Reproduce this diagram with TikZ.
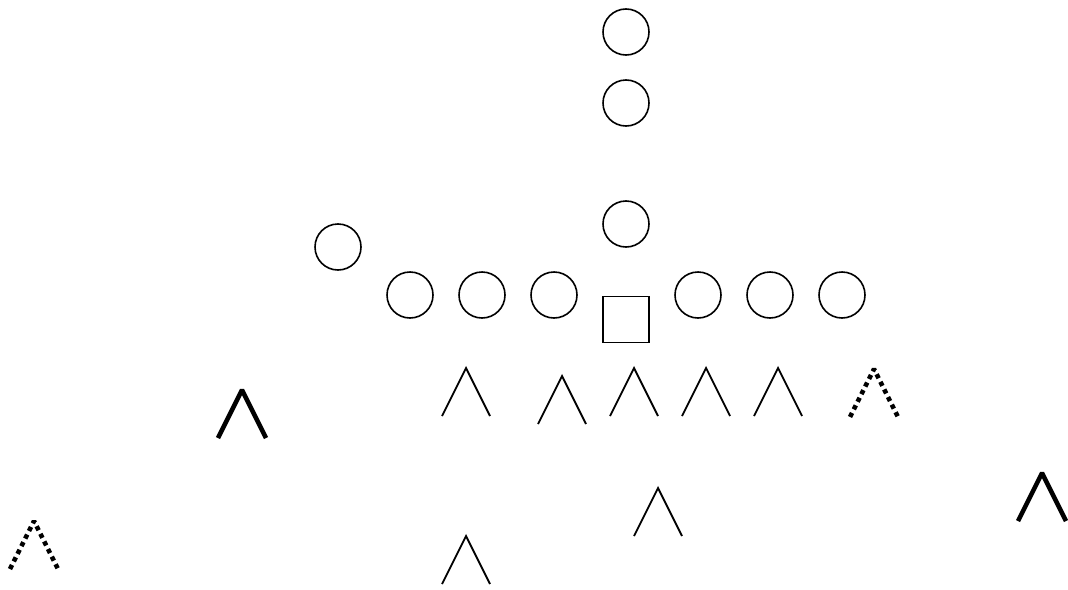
\documentclass[tikz,border=0pt]{standalone}
\begin{document}
\begin{tikzpicture}[x=1pt,y=-1pt,
  player/.style={draw,circle,line width=1.6pt,minimum size=46pt,inner sep=0pt},
  center/.style={draw,rectangle,line width=1.6pt,minimum size=46pt,inner sep=0pt},
  thincaret/.style={line width=1.8pt},
  thickcaret/.style={line width=4.5pt,line join=bevel},
  dotcaret/.style={line width=4.5pt,line join=bevel,dash pattern=on 4.5pt off 4pt},
  caret/.pic={\path[pic actions] (-24,48) -- (0,0) -- (24,48);}]
\useasboundingbox (0,0) rectangle (1068,589);
% offense
\node[player] (qb1) at (626,32) {};
\node[player] (qb2) at (626,103) {};
\node[player] (qb3) at (626,224) {};
\node[player] (wing) at (338,247) {};
\node[player] (l1) at (410,295) {};
\node[player] (l2) at (482,295) {};
\node[player] (l3) at (554,295) {};
\node[player] (r1) at (698,295) {};
\node[player] (r2) at (770,295) {};
\node[player] (r3) at (842,295) {};
\node[center] (c) at (626,319.5) {};
% defense
\pic[draw,thincaret] (d1) at (466,368) {caret};
\pic[draw,thincaret] (d2) at (562,376) {caret};
\pic[draw,thincaret] (d3) at (634,368) {caret};
\pic[draw,thincaret] (d4) at (706,368) {caret};
\pic[draw,thincaret] (d5) at (778,368) {caret};
\pic[draw,dotcaret] (d6) at (874,369) {caret};
\pic[draw,thincaret] (d7) at (658,488) {caret};
\pic[draw,thincaret] (d8) at (466,536) {caret};
\pic[draw,thickcaret] (d9) at (242,390) {caret};
\pic[draw,thickcaret] (d10) at (1042,473) {caret};
\pic[draw,dotcaret] (d11) at (34,521) {caret};
\end{tikzpicture}
\end{document}
